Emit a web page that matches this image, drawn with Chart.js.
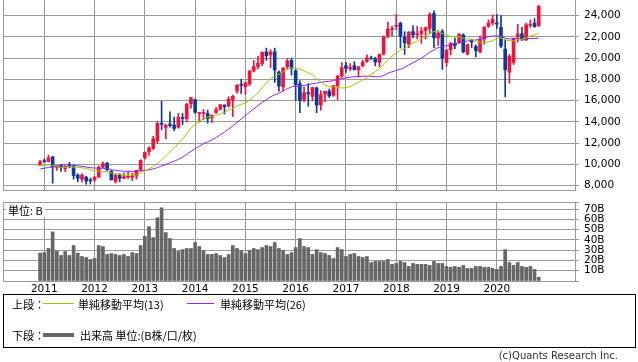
<!DOCTYPE html>
<html>
<head>
<meta charset="utf-8">
<script src="https://cdn.jsdelivr.net/npm/chart.js@4/dist/chart.umd.min.js"></script>
<style>
body { margin: 0; width: 638px; height: 362px; background: #fff; position: relative; overflow: hidden; font-family: "DejaVu Sans", sans-serif; }
canvas { position: absolute; left: 0; }
#price { top: 0; }
#vol { top: 196px; }
.jp { font-family: "Noto Sans CJK JP", sans-serif; font-size: 11px; color: #000; position: absolute; line-height: 14px; white-space: nowrap; }
#unit { left: 6px; top: 203px; background: #fff; padding: 0 2px; }
#legend { position: absolute; left: 3px; top: 294px; width: 633px; height: 54px; box-sizing: border-box; border: 1px solid #000; }
.sw { position: absolute; }
#copy { position: absolute; top: 350px; right: 20px; font-size: 10px; color: #333; white-space: nowrap; }
</style>
</head>
<body>
<canvas id="price" width="638" height="192"></canvas>
<canvas id="vol" width="638" height="100"></canvas>
<div id="unit" class="jp">単位: B</div>
<div id="legend">
  <span class="jp" style="left:8px;top:2px;">上段：</span>
  <span class="sw" style="left:39px;top:8px;width:31px;height:1px;background:#99cc00;"></span>
  <span class="jp" style="left:74px;top:2px;">単純移動平均(13)</span>
  <span class="sw" style="left:183px;top:8px;width:27px;height:1px;background:#9922ee;"></span>
  <span class="jp" style="left:216px;top:2px;">単純移動平均(26)</span>
  <span class="jp" style="left:8px;top:33px;">下段：</span>
  <span class="sw" style="left:39px;top:38px;width:31px;height:4px;background:#666;"></span>
  <span class="jp" style="left:76px;top:33px;">出来高 単位:(B株/口/枚)</span>
</div>
<div id="copy">(c)Quants Research Inc.</div>
<script>
// 月足 2010/12 〜 2020/11 (index 0 = 2010/12)
const years = ['2011', '2012', '2013', '2014', '2015', '2016', '2017', '2018', '2019', '2020'];
const yearIdx = [1, 13, 25, 37, 49, 61, 73, 85, 97, 109];

const opens = [9962, 10352, 10275, 10700, 9718, 9900, 9600, 9870, 9800, 9000, 8600, 8800, 8500,
	8550, 8800, 9750, 10100, 9380, 8400, 9000, 8700, 8800, 8800, 8900, 9450,
	10604, 11200, 11500, 12200, 13800, 13500, 13800, 13700, 13500, 14400, 14300, 15700,
	16100, 14800, 14800, 14800, 14400, 14900, 15200, 15600, 15500, 16100, 16900, 17500,
	17300, 17600, 18800, 19200, 19500, 20600, 20300, 20600, 18700, 17300, 19200, 19800,
	18818, 17600, 16100, 16700, 16400, 17200, 15600, 16600, 16900, 16500, 17400, 18300,
	19300, 19000, 19300, 18900, 19300, 19700, 20000, 19950, 19600, 20400, 22100, 22700,
	23000, 23300, 22000, 21300, 22500, 22200, 22300, 22600, 22800, 24200, 21900, 22500,
	19600, 20800, 21400, 21500, 22200, 20400, 21600, 21100, 20600, 21800, 23000, 23300,
	23319, 22900, 20849, 18686, 19600, 22000, 22300, 21700, 23100, 23300, 23050];
const highs = [10394, 10521, 10891, 10768, 9849, 10017, 9876, 10207, 9962, 9113, 9152, 8901, 8726,
	8866, 9866, 10255, 10190, 9406, 9044, 9134, 9222, 9288, 9180, 9460, 10433,
	11191, 11662, 12650, 13999, 15942, 13800, 14953, 14466, 14817, 14799, 15749, 16320,
	16164, 14900, 15164, 15120, 14680, 15376, 15646, 15600, 16374, 16533, 17520, 18030,
	17750, 18830, 19778, 20187, 20600, 20953, 20800, 20946, 18800, 19100, 19937, 20012,
	18951, 17905, 17291, 17613, 17251, 17300, 16938, 16900, 17100, 17446, 18400, 19592,
	19615, 19500, 19668, 19200, 19800, 20318, 20200, 20100, 20400, 22100, 23382, 23000,
	24124, 23400, 22500, 22500, 23050, 23000, 22900, 22950, 24286, 24448, 22600, 22698,
	20800, 21500, 21860, 22307, 22300, 21300, 21800, 21250, 22100, 22974, 23600, 24091,
	24115, 24000, 21719, 20365, 21900, 23185, 22900, 23300, 23600, 23725, 24960];
const lows = [9891, 10219, 10225, 8227, 9441, 9351, 9318, 9701, 8619, 8359, 8343, 8135, 8160,
	8349, 8800, 9694, 9388, 8542, 8238, 8365, 8656, 8679, 8488, 8619, 9380,
	10486, 10865, 11400, 12003, 13261, 12415, 13518, 13188, 13400, 13748, 14000, 15300,
	14808, 13995, 14203, 13885, 13965, 14800, 15100, 14753, 15400, 14529, 16700, 16672,
	16593, 17400, 18700, 19000, 19300, 19800, 19115, 17714, 16901, 16900, 19000, 18410,
	16017, 14865, 15900, 15471, 16000, 14864, 15100, 15900, 16300, 16400, 16111, 18200,
	18650, 18800, 18900, 18224, 19200, 19600, 19900, 19280, 19200, 20300, 21900, 22100,
	22700, 20950, 20347, 21000, 21900, 21800, 21400, 21800, 22300, 20971, 21200, 18949,
	19241, 20300, 20900, 21400, 20500, 20300, 21000, 20110, 20500, 21300, 22900, 23100,
	22800, 21000, 16358, 17646, 19400, 21530, 21700, 21700, 22900, 22900, 23000];
const closes = [10229, 10238, 10624, 9755, 9850, 9694, 9816, 9833, 8955, 8700, 8988, 8434, 8455,
	8803, 9723, 10084, 9521, 8543, 9007, 8695, 8840, 8870, 8928, 9446, 10395,
	11139, 11559, 12398, 13861, 13775, 13677, 13668, 13389, 14456, 14328, 15662, 16291,
	14915, 14841, 14828, 14304, 14632, 15162, 15621, 15425, 16174, 16414, 17460, 17451,
	17674, 18798, 19207, 19520, 20563, 20236, 20585, 18890, 17388, 19083, 19747, 19034,
	17518, 16027, 16759, 16666, 17235, 15576, 16569, 16887, 16450, 17425, 18308, 19114,
	19041, 19119, 18909, 19197, 19651, 20033, 19925, 19646, 20356, 22012, 22725, 22765,
	23098, 22068, 21454, 22468, 22202, 22305, 22554, 22865, 24120, 21920, 22351, 20015,
	20773, 21385, 21206, 22259, 20601, 21276, 21522, 20704, 21756, 22927, 23294, 23657,
	23205, 21143, 18917, 20194, 21878, 22288, 21710, 23140, 23185, 22977, 24905];

// 単純移動平均 (13) / (26)
const ma13 = [9945, 9921, 9953, 9925, 9829, 9724, 9728, 9762, 9718, 9708, 9679, 9620, 9506,
	9396, 9356, 9315, 9296, 9195, 9143, 9057, 8981, 8974, 8992, 9027, 9178,
	9385, 9597, 9803, 10094, 10422, 10817, 11175, 11536, 11968, 12388, 12906, 13432,
	13780, 14065, 14316, 14462, 14522, 14628, 14777, 14912, 15126, 15276, 15517, 15655,
	15761, 16059, 16395, 16756, 17238, 17669, 18087, 18338, 18489, 18713, 18970, 19091,
	19096, 18970, 18813, 18618, 18442, 18059, 17777, 17492, 17305, 17308, 17248, 17199,
	17200, 17323, 17545, 17732, 17962, 18176, 18511, 18748, 19015, 19442, 19850, 20193,
	20500, 20733, 20912, 21186, 21417, 21622, 21815, 22042, 22385, 22505, 22532, 22323,
	22169, 22038, 21972, 22034, 21890, 21819, 21758, 21616, 21531, 21439, 21545, 21645,
	21891, 21919, 21729, 21651, 21622, 21752, 21785, 21909, 22101, 22195, 22347];
const ma26 = [9577, 9643, 9711, 9779, 9867, 9928, 9966, 9978, 9939, 9875, 9818, 9752, 9692,
	9670, 9638, 9634, 9610, 9512, 9433, 9392, 9372, 9346, 9350, 9353, 9399,
	9445, 9497, 9580, 9704, 9859, 10006, 10159, 10297, 10475, 10681, 10949, 11230,
	11479, 11725, 11957, 12133, 12308, 12525, 12797, 13044, 13331, 13622, 13953, 14280,
	14597, 14920, 15230, 15536, 15850, 16095, 16357, 16558, 16701, 16920, 17123, 17304,
	17375, 17365, 17436, 17507, 17599, 17648, 17723, 17790, 17822, 17898, 17981, 18085,
	18145, 18210, 18257, 18273, 18290, 18309, 18285, 18262, 18253, 18373, 18579, 18721,
	18850, 18967, 19118, 19365, 19575, 19792, 19996, 20276, 20567, 20760, 20987, 21087,
	21181, 21269, 21352, 21473, 21538, 21618, 21690, 21716, 21786, 21912, 22025, 22088,
	22107, 22044, 21883, 21811, 21828, 21821, 21802, 21834, 21858, 21863, 21893];

// 出来高 (B)
const volumes = [27.2, 27.7, 31.7, 47.9, 29.1, 24.9, 28.8, 24.9, 34.6, 27.2, 23.9, 22.9, 21,
	22, 34.6, 33.6, 25.9, 26.8, 25.9, 24.9, 25.9, 23.9, 27.7, 26.8, 34.6,
	43.6, 53, 42.3, 61.7, 71.4, 47.2, 41.4, 31.7, 28.8, 30.6, 31.7, 31.7,
	37.5, 33.6, 29.7, 25.9, 25.9, 26.8, 24.9, 22.9, 25.9, 34.6, 31.7, 29.7,
	26.8, 29.7, 31.7, 30.6, 32.6, 34.6, 33.6, 37.5, 31.7, 29.7, 25.9, 27.7,
	32.6, 41.4, 33.6, 32.6, 25.9, 30.6, 27.7, 26.8, 24.9, 22, 32.6, 30.6,
	23.9, 25.9, 26.8, 23.9, 22.9, 23.9, 18, 19.1, 19.1, 19.1, 21, 16.2,
	17.1, 19.1, 18, 14.2, 17.1, 16.2, 16.2, 16.2, 15.2, 19.1, 17.1, 17.1,
	14.2, 13.3, 14.2, 13.3, 15.2, 12.3, 12.3, 14.2, 14.2, 13.3, 13.3, 12.3,
	11.3, 14.2, 30.6, 18, 15.2, 18, 14.2, 13.3, 14.2, 11.3, 3.6];

const priceTicks = [8000, 10000, 12000, 14000, 16000, 18000, 20000, 22000, 24000];
const volTicks = [10, 20, 30, 40, 50, 60, 70];

const xMin = -8.85, xMax = 127.66;
const RED = '#f0143c', BLUE = '#0c3a9c', GRID = '#999999';
const tickFont = { family: 'DejaVu Sans', size: 10.5 };

function candleColor(i) {
	return closes[i] >= opens[i] ? RED : BLUE;
}

let wicks = [], bodies = [], l13 = [], l26 = [], vbars = [];
closes.forEach((c, i) => {
	wicks.push({ x: i, y: [lows[i], highs[i]] });
	bodies.push({ x: i, y: [opens[i], c] });
	l13.push({ x: i, y: ma13[i] });
	l26.push({ x: i, y: ma26[i] });
	vbars.push({ x: i, y: volumes[i] });
});
let colors = closes.map((c, i) => candleColor(i));

// no label overflow padding: the plot areas have to sit at fixed pixels
function noPad(s) {
	s.paddingTop = 0; s.paddingBottom = 0; s.paddingLeft = 0; s.paddingRight = 0;
}

function xAxis(showLabels, h) {
	return {
		type: 'linear', min: xMin, max: xMax, offset: false,
		grid: { color: GRID, drawTicks: false, offset: false },
		border: { color: GRID },
		ticks: {
			display: showLabels, padding: 2, color: '#000', font: tickFont, maxRotation: 0,
			autoSkip: false,
			callback: (v) => {
				let k = yearIdx.indexOf(v);
				return k >= 0 ? years[k] : '';
			}
		},
		afterBuildTicks: (s) => {
			s.ticks = [{ value: xMin }].concat(yearIdx.map(v => ({ value: v })));
		},
		afterFit: (s) => { s.height = h; noPad(s); }
	};
}

function yAxis(min, max, ticks, label) {
	return {
		position: 'right', min: min, max: max,
		grid: { color: GRID, tickLength: 4 },
		border: { color: GRID },
		ticks: { color: '#000', font: tickFont, padding: 5, autoSkip: false, callback: label },
		afterBuildTicks: (s) => { s.ticks = ticks.map(v => ({ value: v })); },
		afterFit: (s) => { s.width = 63; noPad(s); }
	};
}

new Chart(document.getElementById('price'), {
	type: 'bar',
	data: {
		datasets: [
			{ type: 'line', data: l13, borderColor: '#99cc00', borderWidth: 1, pointRadius: 0, order: 0 },
			{ type: 'line', data: l26, borderColor: '#9922ee', borderWidth: 1, pointRadius: 0, order: 0 },
			{ data: bodies, backgroundColor: colors, barThickness: 3, grouped: false, minBarLength: 1, order: 1 },
			{ data: wicks, backgroundColor: colors, barThickness: 1, grouped: false, order: 2 }
		]
	},
	options: {
		responsive: false, animation: false, devicePixelRatio: 1,
		layout: { padding: { left: 3, top: 0, right: 0, bottom: 0 } },
		plugins: { legend: { display: false }, tooltip: { enabled: false } },
		scales: {
			x: xAxis(false, 2),
			y: yAxis(7595, 25478, priceTicks, (v) => Number(v).toLocaleString('en-US'))
		}
	}
});

new Chart(document.getElementById('vol'), {
	type: 'bar',
	data: {
		datasets: [
			{ data: vbars, backgroundColor: '#666666', barThickness: 3, grouped: false }
		]
	},
	options: {
		responsive: false, animation: false, devicePixelRatio: 1,
		layout: { padding: { left: 3, top: 6, right: 0, bottom: 0 } },
		plugins: { legend: { display: false }, tooltip: { enabled: false } },
		scales: {
			x: xAxis(true, 15),
			y: yAxis(0, 77, [0].concat(volTicks, [77]), (v) => volTicks.includes(v) ? v + 'B' : '')
		}
	}
});
</script>
</body>
</html>
